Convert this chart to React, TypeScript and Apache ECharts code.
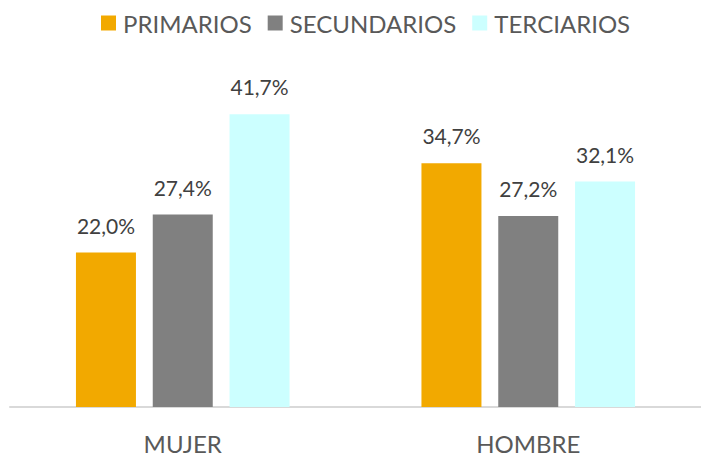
import React, { useEffect, useRef } from "react";
import * as echarts from "echarts";

const categories = ["MUJER", "HOMBRE"];
const seriesNames = ["PRIMARIOS", "SECUNDARIOS", "TERCIARIOS"];
const primarios = [22.0, 34.7];
const secundarios = [27.4, 27.2];
const terciarios = [41.7, 32.1];
const colors = ["#F2A900", "#808080", "#CCFFFF"];

const FONT = "Lato, 'Open Sans', sans-serif";

export default function App() {
  const ref = useRef<HTMLDivElement>(null);
  useEffect(() => {
    if (!ref.current) return;
    const chart = echarts.init(ref.current, null, { renderer: "svg" });
    const values = [primarios, secundarios, terciarios];
    chart.setOption({
      animation: false,
      textStyle: { fontFamily: FONT },
      legend: {
        top: 6,
        left: 96,
        itemWidth: 15,
        itemHeight: 15,
        itemGap: 16,
        icon: "rect",
        textStyle: { fontSize: 24, color: "#595959", fontFamily: FONT, padding: [0, 0, 0, 2] },
        data: seriesNames,
      },
      grid: { left: 10, width: 694, top: 91, bottom: 50, containLabel: false },
      xAxis: {
        type: "category",
        data: categories,
        axisLine: { show: true, lineStyle: { color: "#D9D9D9", width: 2 } },
        axisTick: { show: false },
        axisLabel: { fontSize: 24, color: "#595959", fontFamily: FONT, margin: 24 },
      },
      yAxis: {
        type: "value",
        min: 0,
        max: 45,
        show: false,
        splitLine: { show: false },
      },
      series: seriesNames.map((name, i) => ({
        name,
        type: "bar",
        data: values[i],
        barWidth: 60,
        barGap: "28%",
        itemStyle: { color: colors[i] },
        label: {
          show: true,
          position: "top",
          distance: 17,
          fontSize: 21,
          color: "#404040",
          fontFamily: FONT,
          formatter: (p: any) => p.value.toFixed(1).replace(".", ",") + "%",
        },
      })),
    });
    return () => chart.dispose();
  }, []);
  return <div ref={ref} style={{ width: 701, height: 457, position: "absolute", left: 0, top: 0 }} />;
}
